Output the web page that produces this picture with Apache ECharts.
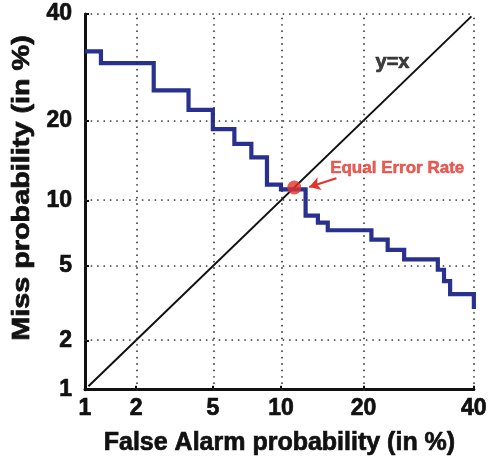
<!DOCTYPE html>
<html>
<head>
<meta charset="utf-8">
<title>DET curve</title>
<script src="https://cdn.jsdelivr.net/npm/echarts@6/dist/echarts.min.js"></script>
<style>
  html, body { margin: 0; padding: 0; background: #fff; }
  #chart { width: 490px; height: 461px; }
</style>
</head>
<body>
<div id="chart"></div>
<script>
// Tick values (percent) on both normal-deviate axes
const faTicks = [1, 2, 5, 10, 20, 40];
const missTicks = [1, 2, 5, 10, 20, 40];

// DET staircase: each entry starts a new miss level at the given false-alarm rate
const curveFA   = [1, 1.25, 2.5, 3.8, 5.0, 6.3, 7.5, 8.75, 10.0, 12.5, 13.9, 15.1, 21.2, 23.8, 26.6, 32.8, 34.0, 35.2, 40];
const curveMiss = [32.3, 30.0, 25.0, 21.7, 18.7, 16.6, 14.8, 11.6, 11.1, 8.6, 8.0, 7.4, 6.7, 6.0, 5.4, 4.8, 4.2, 3.6, 3.0];

// Reference diagonal y = x (percent)
const diagonal = [1.05, 39.5];

// Operating point where both error rates coincide
const eer = [11.3, 11.3];

// Annotation anchors (percent coordinates)
const eerArrow = [[16.2, 12.3], [12.9, 11.35]];
const eerLabelPos = [25.4, 13.5];
const diagLabelPos = [24.6, 30.1];

// Inverse of the standard normal CDF (Acklam's rational approximation)
function probit(p) {
  const a = [-3.969683028665376e+01, 2.209460984245205e+02, -2.759285104469687e+02, 1.383577518672690e+02, -3.066479806614716e+01, 2.506628277459239e+00];
  const b = [-5.447609879822406e+01, 1.615858368580409e+02, -1.556989798598866e+02, 6.680131188771972e+01, -1.328068155288572e+01];
  const c = [-7.784894002430293e-03, -3.223964580411365e-01, -2.400758277161838e+00, -2.549732539343734e+00, 4.374664141464968e+00, 2.938163982698783e+00];
  const d = [7.784695709041462e-03, 3.224671290700398e-01, 2.445134137142996e+00, 3.754408661907416e+00];
  const pl = 0.02425, ph = 1 - pl;
  let q, r;
  if (p < pl) {
    q = Math.sqrt(-2 * Math.log(p));
    return (((((c[0]*q + c[1])*q + c[2])*q + c[3])*q + c[4])*q + c[5]) /
           ((((d[0]*q + d[1])*q + d[2])*q + d[3])*q + 1);
  }
  if (p <= ph) {
    q = p - 0.5; r = q * q;
    return (((((a[0]*r + a[1])*r + a[2])*r + a[3])*r + a[4])*r + a[5]) * q /
           (((((b[0]*r + b[1])*r + b[2])*r + b[3])*r + b[4])*r + 1);
  }
  q = Math.sqrt(-2 * Math.log(1 - p));
  return -(((((c[0]*q + c[1])*q + c[2])*q + c[3])*q + c[4])*q + c[5]) /
          ((((d[0]*q + d[1])*q + d[2])*q + d[3])*q + 1);
}
const z = pct => probit(pct / 100);

const FONT = "'Liberation Sans', Arial, Helvetica, sans-serif";
const INK = '#111111';
const RED = '#e3342a';

function tickFormatter(ticks) {
  return function (val) {
    for (const t of ticks) {
      if (Math.abs(z(t) - val) < 1e-6) return String(t);
    }
    return '';
  };
}

// heavy bold text: bold face plus a thin outline in the same colour
function heavyText(size, color, extra) {
  return Object.assign({
    fontFamily: FONT, fontWeight: 'bold', fontSize: size, color: color,
    textBorderColor: color, textBorderWidth: 0.7
  }, extra || {});
}

const gridStyle = { color: '#2f2f2f', width: 1.7, type: [0.1, 6.3], cap: 'round' };

// plain dotted frame axis (top / right edges of the box)
function frameAxis(type, position, ticks) {
  return {
    type: 'value',
    position: position,
    min: z(ticks[0]),
    max: z(ticks[ticks.length - 1]),
    axisLine: { show: true, onZero: false, lineStyle: gridStyle },
    axisTick: { show: false },
    axisLabel: { show: false },
    splitLine: { show: false }
  };
}

const option = {
  animation: false,
  backgroundColor: '#ffffff',
  grid: { left: 85, right: 12, top: 14, bottom: 67, containLabel: false },
  xAxis: [{
    type: 'value',
    position: 'bottom',
    min: z(faTicks[0]),
    max: z(faTicks[faTicks.length - 1]),
    name: 'False Alarm probability (in %)',
    nameLocation: 'middle',
    nameGap: 41,
    nameTextStyle: heavyText(25, INK),
    axisLine: { show: true, onZero: false, lineStyle: { color: INK, width: 3 } },
    axisTick: { show: true, inside: true, length: 4, customValues: faTicks.map(z), lineStyle: { color: INK, width: 2 } },
    axisLabel: Object.assign(heavyText(23, INK), {
      show: true, customValues: faTicks.map(z), formatter: tickFormatter(faTicks),
      margin: 8, showMinLabel: true, showMaxLabel: true
    }),
    splitLine: { show: false }
  }, frameAxis('x', 'top', faTicks)],
  yAxis: [{
    type: 'value',
    position: 'left',
    min: z(missTicks[0]),
    max: z(missTicks[missTicks.length - 1]),
    axisLine: { show: true, onZero: false, lineStyle: { color: INK, width: 3 } },
    axisTick: { show: true, inside: true, length: 4, customValues: missTicks.map(z), lineStyle: { color: INK, width: 2 } },
    axisLabel: Object.assign(heavyText(23, INK), {
      show: true, customValues: missTicks.map(z), formatter: tickFormatter(missTicks),
      margin: 13, showMinLabel: true, showMaxLabel: true
    }),
    splitLine: { show: false }
  }, frameAxis('y', 'right', missTicks)],
  graphic: [{
    type: 'text',
    x: 22, y: 188,
    rotation: Math.PI / 2,
    scaleX: 1.2,
    style: {
      text: 'Miss probability (in %)',
      font: "bold 24px " + FONT,
      fill: INK,
      stroke: INK,
      lineWidth: 0.7,
      textAlign: 'center',
      textVerticalAlign: 'middle'
    }
  }],
  series: [
    {
      // dotted interior grid
      type: 'line',
      data: [],
      silent: true,
      clip: false,
      z: 1,
      markLine: {
        silent: true,
        symbol: ['none', 'none'],
        label: { show: false },
        lineStyle: gridStyle,
        emphasis: { disabled: true },
        data: faTicks.slice(1, -1).map(t => ({ xAxis: z(t) }))
          .concat(missTicks.slice(1, -1).map(t => ({ yAxis: z(t) })))
      }
    },
    {
      // y = x reference line
      type: 'line',
      data: diagonal.map(v => [z(v), z(v)]),
      symbol: 'none',
      silent: true,
      z: 3,
      lineStyle: { color: INK, width: 2 }
    },
    {
      // DET curve
      type: 'line',
      step: 'end',
      data: curveFA.map((fa, i) => [z(fa), z(curveMiss[i])]),
      symbol: 'none',
      silent: true,
      clip: false,
      z: 4,
      lineStyle: { color: '#28318f', width: 4.2, join: 'miter' }
    },
    {
      // equal error rate marker + arrow
      type: 'scatter',
      data: [[z(eer[0]), z(eer[1])]],
      symbol: 'circle',
      symbolSize: 14,
      silent: true,
      z: 5,
      itemStyle: { color: RED },
      markLine: {
        silent: true,
        symbol: ['none', 'arrow'],
        symbolSize: [10, 11],
        label: { show: false },
        lineStyle: { color: RED, width: 2, type: 'solid' },
        data: [[
          { coord: [z(eerArrow[0][0]), z(eerArrow[0][1])] },
          { coord: [z(eerArrow[1][0]), z(eerArrow[1][1])] }
        ]]
      }
    },
    {
      // text annotations
      type: 'scatter',
      symbolSize: 0,
      silent: true,
      z: 6,
      data: [
        { value: [z(eerLabelPos[0]), z(eerLabelPos[1])],
          label: Object.assign(heavyText(17, RED, { textBorderWidth: 0.5 }), { show: true, position: 'inside', formatter: 'Equal Error Rate' }) },
        { value: [z(diagLabelPos[0]), z(diagLabelPos[1])],
          label: Object.assign(heavyText(20, INK), { show: true, position: 'inside', formatter: 'y=x' }) }
      ]
    }
  ]
};

const chart = echarts.init(document.getElementById('chart'), null, { renderer: 'canvas' });
chart.setOption(option);
</script>
</body>
</html>
